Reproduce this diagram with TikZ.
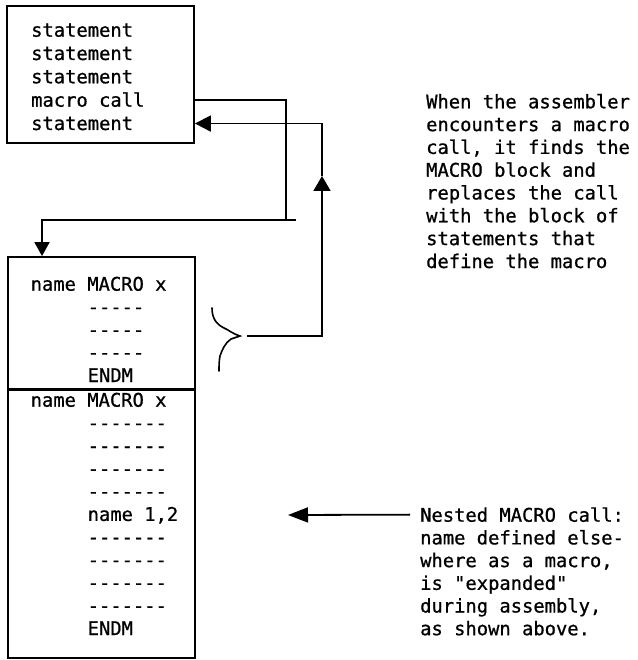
\documentclass[tikz,border=0pt]{standalone}
\usepackage{fontspec}
\setmonofont[FakeBold=0.8]{DejaVu Sans Mono}
\usetikzlibrary{arrows.meta,calc}
\begin{document}
\begin{tikzpicture}[x=1pt,y=-1pt,
  txt/.style={anchor=base west, inner sep=0pt, font=\ttfamily\fontsize{18.8}{22.8}\selectfont},
  box/.style={draw, line width=1.8pt, inner sep=0pt},
  conn/.style={line width=1.8pt},
  bigtip/.style={-{Triangle[length=16pt,width=16pt]}},
  dntip/.style={-{Triangle[length=14pt,width=15pt]}},
  nesttip/.style={-{Triangle[length=20pt,width=15pt]}}]
\useasboundingbox (0,0) rectangle (637,660);

% top box
\node[box, minimum width=187pt, minimum height=137pt] (topbox) at (100.5,74.5) {};
\node[txt] (t1) at (31,36.7) {statement};
\node[txt] (t2) at (31,60) {statement};
\node[txt] (t3) at (31,83.3) {statement};
\node[txt] (t4) at (31,106.7) {macro call};
\node[txt] (t5) at (31,130) {statement};

% lower boxes
\node[box, minimum width=187pt, minimum height=132pt] (defbox) at (101.5,323) {};
\node[box, minimum width=187pt, minimum height=269pt] (nestbox) at (101.5,523.5) {};
\draw[line width=1.3pt] (defbox.south west) -- (defbox.south east);

% definition block text
\node[txt] (d1) at (30.5,290.7) {name MACRO x};
\node[txt] (d2) at (87.5,313.5) {-----};
\node[txt] (d3) at (87.5,336.3) {-----};
\node[txt] (d4) at (87.5,359) {-----};
\node[txt] (d5) at (87.5,382) {ENDM};

% nested block text
\node[txt] (n0) at (30.5,406.7) {name MACRO x};
\node[txt] (n1) at (87.5,429.5) {-------};
\node[txt] (n2) at (87.5,452.4) {-------};
\node[txt] (n3) at (87.5,475.2) {-------};
\node[txt] (n4) at (87.5,498.0) {-------};
\node[txt] (n5) at (87.5,520.9) {name 1,2};
\node[txt] (n6) at (87.5,543.7) {-------};
\node[txt] (n7) at (87.5,566.5) {-------};
\node[txt] (n8) at (87.5,589.3) {-------};
\node[txt] (n9) at (87.5,612.2) {-------};
\node[txt] (n10) at (87.5,635) {ENDM};

% right explanation
\node[txt] (r1) at (426,108.3) {When the assembler};
\node[txt] (r2) at (426,131.1) {encounters a macro};
\node[txt] (r3) at (426,153.9) {call, it finds the};
\node[txt] (r4) at (426,176.7) {MACRO block and};
\node[txt] (r5) at (426,199.5) {replaces the call};
\node[txt] (r6) at (426,222.3) {with the block of};
\node[txt] (r7) at (426,245.1) {statements that};
\node[txt] (r8) at (426,268) {define the macro};

% bottom explanation
\node[txt] (b1) at (420,521.7) {Nested MACRO call:};
\node[txt] (b2) at (420,544.4) {name defined else-};
\node[txt] (b3) at (420,567.1) {where as a macro,};
\node[txt] (b4) at (420,589.8) {is "expanded"};
\node[txt] (b5) at (420,612.5) {during assembly,};
\node[txt] (b6) at (420,635.2) {as shown above.};

% connector: macro call -> definition block
\coordinate (j1) at (286,220);
\coordinate (j2) at (296,220);
\coordinate (j3) at (42,220);
\draw[conn] (topbox.east |- t4.center) -| (j1);
\draw[conn, dntip] (j2) -- (j3) -- (j3 |- defbox.north);

% brace
\coordinate (bt) at (240,336);
\draw[line width=1.6pt, line cap=round, line join=miter]
  (212,308) .. controls (212,318) and (216,324) .. (224,328)
  .. controls (229,330) and (231,333) .. (bt)
  -- (231,339)
  .. controls (225,343) and (222,350) .. (220,356)
  .. controls (219,361) and (219,366) .. (219,371);

% return path: block -> replaces call
\coordinate (r0) at (247,336);
\coordinate (up) at (322,176);
\draw[conn, -{Triangle[length=15pt,width=17pt]}] (r0) -| (up);
\draw[conn, bigtip] (up) |- (topbox.east |- t5.center);

% nested call arrow
\coordinate (nt) at (288,515);
\draw[conn, nesttip] ($(b1.west |- b1.center)+(-10,0)$) -- (nt);
\end{tikzpicture}
\end{document}
